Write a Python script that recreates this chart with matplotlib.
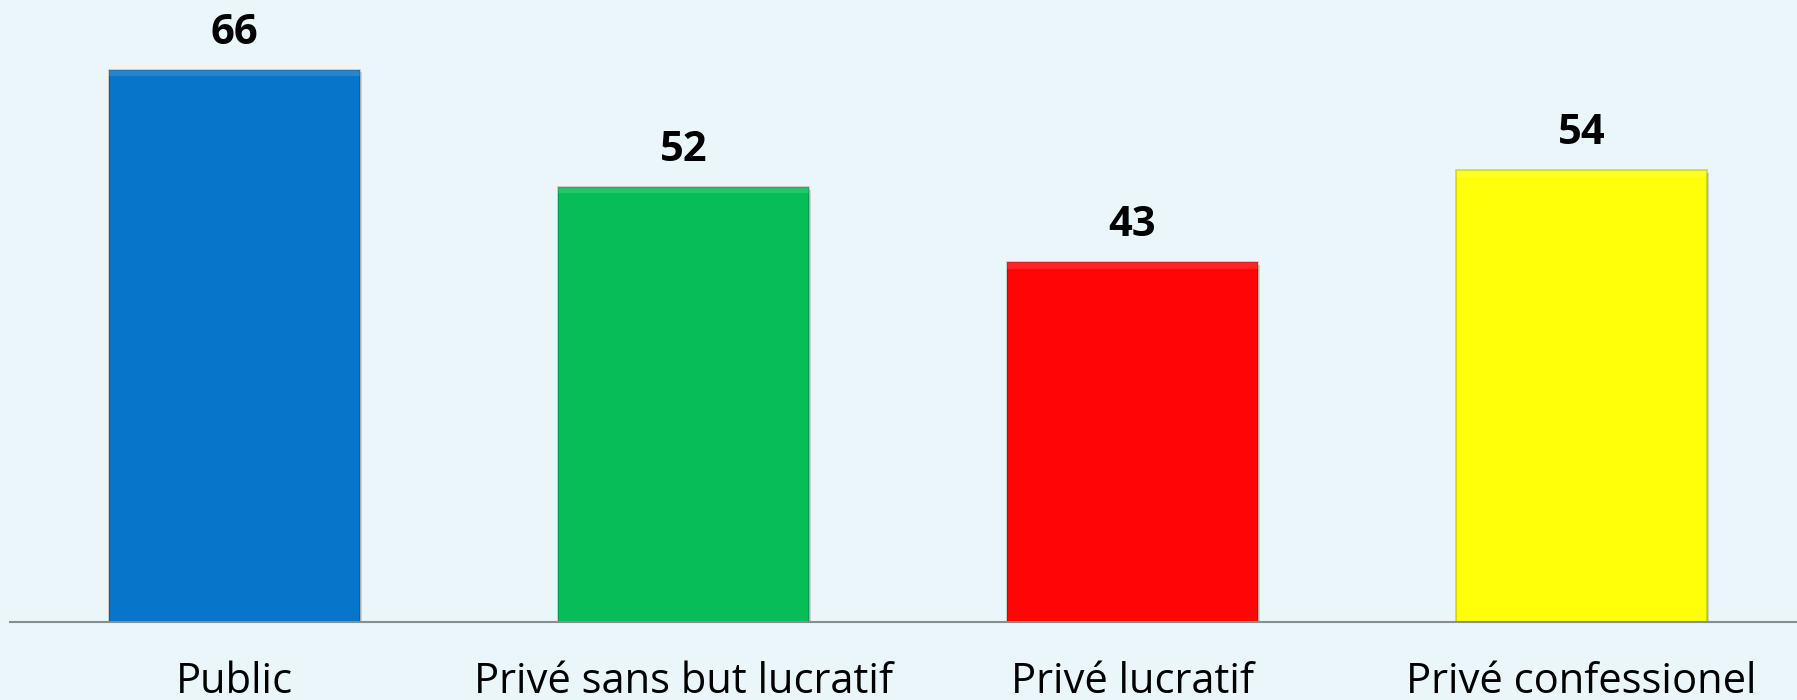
import matplotlib.pyplot as plt
import matplotlib.patheffects as pe

categories = ["Public", "Privé sans but lucratif", "Privé lucratif", "Privé confessionel"]
values = [66, 52, 43, 54]
colors = ["#0775C9", "#07BD58", "#FF0505", "#FFFF0A"]

bg = "#EBF6FB"
plt.rcParams['font.family'] = ['Open Sans', 'DejaVu Sans']

fig = plt.figure(figsize=(17.97, 7.00), dpi=100, facecolor=bg)
# axes spans a bit past the right edge, like the original slide
ax = fig.add_axes([10 / 1797, 78.3 / 700, 1796 / 1797, 619 / 700])
ax.set_facecolor(bg)

x = range(len(categories))
bars = ax.bar(x, values, width=0.557, color=colors, edgecolor="#00000030", linewidth=1.2, zorder=2)

# soft shadow + light top strip for a bevelled look
for b, c in zip(bars, colors):
    b.set_path_effects([pe.SimplePatchShadow(offset=(2, -2), shadow_rgbFace="#000000", alpha=0.15), pe.Normal()])
    ax.bar(b.get_x() + b.get_width() / 2, 0.8, bottom=b.get_height() - 0.8, width=b.get_width(),
           color="white", alpha=0.12, linewidth=0, zorder=3)

for xi, v in zip(x, values):
    ax.text(xi, v + 3.1, str(v), ha="center", va="baseline", fontsize=30, fontweight="bold", color="black")

ax.set_xlim(-0.5, 3.5)
ax.set_ylim(0, 74)
ax.set_xticks(list(x))
ax.set_xticklabels(categories, fontsize=30)
ax.tick_params(axis="x", length=0, pad=28)
ax.set_yticks([])
for s in ["top", "right", "left"]:
    ax.spines[s].set_visible(False)
ax.spines["bottom"].set_color("#8C8C8C")
ax.spines["bottom"].set_linewidth(1.5)

fig.savefig("out.png", dpi=100, facecolor=bg)
